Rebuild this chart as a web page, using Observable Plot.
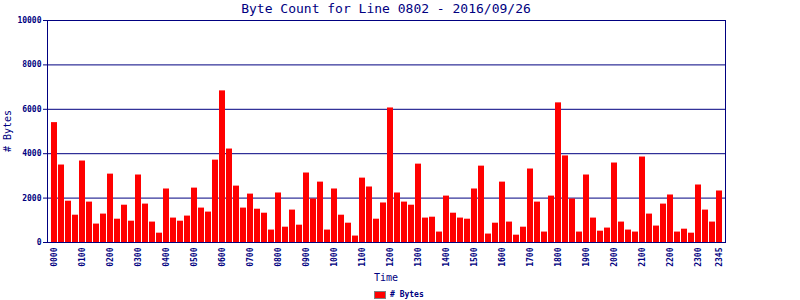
<!DOCTYPE html>
<html>
<head>
<meta charset="utf-8">
<script src="https://cdn.jsdelivr.net/npm/d3@7"></script>
<script src="https://cdn.jsdelivr.net/npm/@observablehq/plot@0.6"></script>
<style>
  html, body { margin: 0; padding: 0; background: #ffffff; }
  #wrap { position: relative; width: 800px; height: 300px; overflow: hidden; font-family: "DejaVu Sans Mono", monospace; color: #000080; }
  #chart { position: absolute; left: 0; top: 0; }
  .abs { position: absolute; white-space: nowrap; }
  #title { left: 47px; width: 678px; top: 0px; line-height: 17px; font-size: 13px; text-align: center; }
  #xlabel { left: 47px; width: 678px; top: 271px; line-height: 14px; font-size: 10px; text-align: center; }
  #ylabel { left: 7px; top: 131px; font-size: 10px; transform: translate(-50%, -50%) rotate(-90deg); }
  #legend { left: 374px; top: 290px; font-size: 8px; font-weight: bold; line-height: 10px; display: flex; align-items: center; }
  #legend .sw { width: 10px; height: 6px; background: #ff0000; border: 1px solid #808080; margin-right: 4px; }
</style>
</head>
<body>
<div id="wrap">
  <div id="chart"></div>
  <div id="title" class="abs">Byte Count for Line 0802 - 2016/09/26</div>
  <div id="xlabel" class="abs">Time</div>
  <div id="ylabel" class="abs"># Bytes</div>
  <div id="legend" class="abs"><span class="sw"></span><span># Bytes</span></div>
</div>
<script>
// Categories: 15-minute intervals 0000 .. 2345
const times = d3.range(96).map(i => String(Math.floor(i / 4)).padStart(2, "0") + String((i % 4) * 15).padStart(2, "0"));

// Byte counts per interval
const bytes = [
  5400, 3490, 1860, 1230, 3670, 1820, 830, 1280,
  3080, 1050, 1680, 960, 3040, 1730, 920, 420,
  2410, 1100, 960, 1190, 2450, 1550, 1370, 3710,
  6830, 4210, 2540, 1550, 2180, 1500, 1320, 560,
  2230, 690, 1460, 780, 3130, 1960, 2720, 560,
  2410, 1230, 870, 290, 2900, 2500, 1050, 1780,
  6060, 2230, 1820, 1680, 3530, 1100, 1140, 470,
  2090, 1320, 1100, 1050, 2410, 3440, 380, 870,
  2720, 920, 330, 690, 3310, 1820, 470, 2090,
  6290, 3900, 1960, 470, 3040, 1100, 510, 650,
  3580, 920, 560, 470, 3850, 1280, 740, 1730,
  2140, 470, 600, 420, 2590, 1460, 920, 2320
];

const xTicks = ["0000","0100","0200","0300","0400","0500","0600","0700","0800","0900","1000","1100",
                "1200","1300","1400","1500","1600","1700","1800","1900","2000","2100","2200","2300","2345"];
const yTicks = [0, 2000, 4000, 6000, 8000, 10000];
const gridTicks = [2000, 4000, 6000, 8000];

const data = times.map((t, i) => ({t, v: bytes[i]}));
const navy = "#000080";

const chart = Plot.plot({
  width: 800,
  height: 300,
  marginLeft: 47,
  marginRight: 75,
  marginTop: 20,
  marginBottom: 58,
  style: { fontFamily: "DejaVu Sans Mono", color: navy, background: "transparent", overflow: "visible" },
  x: { type: "band", domain: times, paddingInner: 1 / 7, paddingOuter: 0.5, axis: null },
  y: { domain: [0, 10000], axis: null },
  marks: [
    Plot.gridY(gridTicks, { stroke: navy, strokeOpacity: 1, strokeWidth: 1 }),
    Plot.barY(data, { x: "t", y: "v", fill: "#ff0000", inset: 0 }),
    Plot.axisY({ ticks: yTicks, tickSize: 4, tickPadding: 2, tickFormat: d => String(d), label: null,
                 fontSize: 8, fontWeight: "bold", stroke: navy, fill: navy }),
    Plot.axisX({ ticks: xTicks, tickRotate: -90, tickSize: 0, tickPadding: 5, label: null,
                 fontSize: 8, fontWeight: "bold", fill: navy }),
    Plot.frame({ stroke: navy, strokeWidth: 1 })
  ]
});
document.getElementById("chart").appendChild(chart);
</script>
</body>
</html>
